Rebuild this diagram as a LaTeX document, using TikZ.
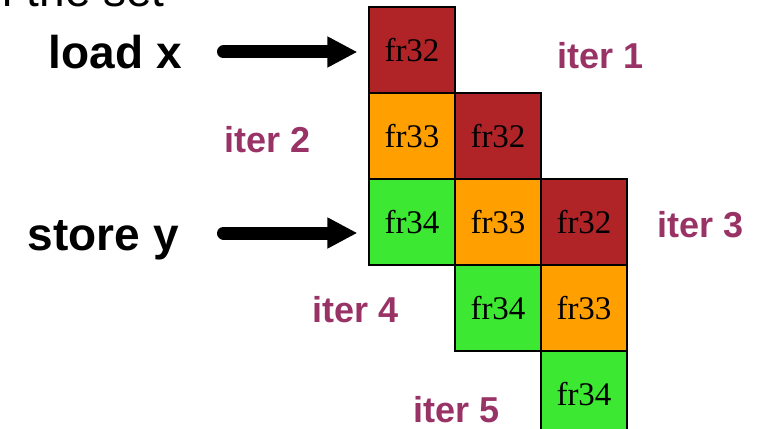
\documentclass[tikz,border=0pt]{standalone}
\usepackage{fontspec}
\setmainfont{Liberation Serif}
\setsansfont{Liberation Sans}
\usetikzlibrary{arrows.meta}

\definecolor{frred}{RGB}{176,36,40}
\definecolor{frorange}{RGB}{255,160,0}
\definecolor{frgreen}{RGB}{60,232,50}
\definecolor{iterpurple}{RGB}{153,51,102}

\tikzstyle{reg}=[
	draw=black,
	line width=1.2pt,
	shape=rectangle,
	minimum size=86pt,
	inner sep=0pt,
	font=\rmfamily\fontsize{33}{36}\selectfont
]
\tikzstyle{op} = [inner sep=0pt, font=\sffamily\bfseries\fontsize{46}{50}\selectfont]
\tikzstyle{iter} = [inner sep=0pt, anchor=base, text=iterpurple,
	font=\sffamily\bfseries\fontsize{36}{40}\selectfont]
\tikzstyle{bigarrow} = [draw, line width=13pt, line cap=round,
	-{Triangle[length=30pt,width=29pt]}]

\begin{document}
\begin{tikzpicture}[x=1pt,y=-1pt,node distance=86pt]
			
				\useasboundingbox (0,0) rectangle (757,428);
				\clip (0,0) rectangle (757,428);
				
				% register cells, one column per iteration offset
				\node[reg,fill=frred]		(A)	at (412,50) {fr32};
				\node[reg,fill=frorange]	(B) [below of=A]{fr33};
				\node[reg,fill=frred]		(C) [right of=B]{fr32};
				\node[reg,fill=frgreen]		(D) [below of=B]{fr34};
				\node[reg,fill=frorange]	(E) [right of=D]{fr33};
				\node[reg,fill=frred]		(F) [right of=E]{fr32};
				\node[reg,fill=frgreen]		(G) [below of=E]{fr34};
				\node[reg,fill=frorange]	(H) [right of=G]{fr33};
				\node[reg,fill=frgreen]		(I) [below of=H]{fr34};
				
				% heading left over from above
				\node[op,font=\sffamily\fontsize{46}{50}\selectfont,anchor=base east] (head) at (165,7) {of the set};
				
				\node[op,anchor=base east]	(loadx)	at (182,69) {load x};
				\node[op,anchor=base east]	(storey) at (179,250) {store y};
				
				\coordinate (lx) at ([yshift=17pt]loadx.base east);
				\coordinate (sy) at ([yshift=17pt]storey.base east);
				
				\draw[bigarrow, shorten <=41.5pt, shorten >=11pt] (lx) -- (lx -| A.west);
				\draw[bigarrow, shorten <=44.5pt, shorten >=11pt] (sy) -- (sy -| D.west);
				
				\node[iter] (it1) at (601,69) {iter 1};
				\node[iter] (it2) at (268,152) {iter 2};
				\node[iter] (it3) at (701,237) {iter 3};
				\node[iter] (it4) at (356,322) {iter 4};
				\node[iter] (it5) at (457,422) {iter 5};
			
			\end{tikzpicture}
\end{document}
